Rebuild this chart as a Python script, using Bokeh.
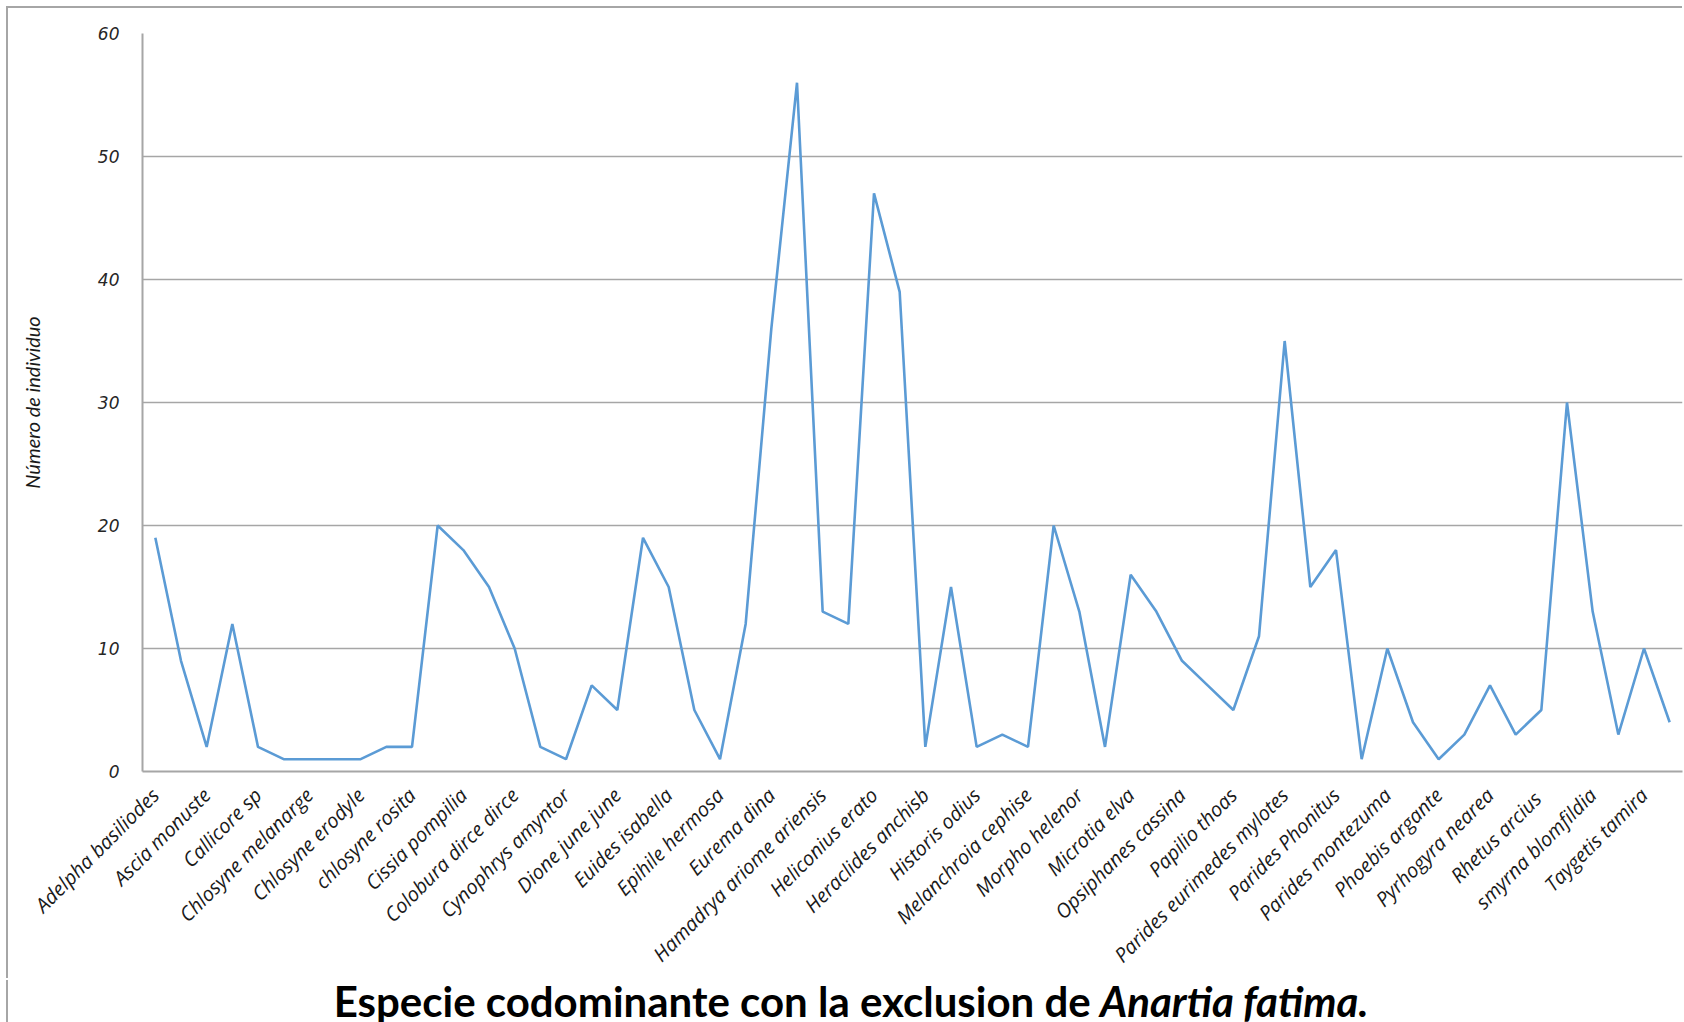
from bokeh.plotting import figure
from bokeh.layouts import column
from bokeh.models import Range1d, FixedTicker, Label
from bokeh.embed import file_html
from bokeh.resources import INLINE

# ---- data ----
shown_labels = [
    "Adelpha basiliodes", "Ascia monuste", "Callicore sp", "Chlosyne melanarge",
    "Chlosyne erodyle", "chlosyne rosita", "Cissia pompilia", "Colobura dirce dirce",
    "Cynophrys amyntor", "Dione june june", "Euides isabella", "Epihile hermosa",
    "Eurema dina", "Hamadrya ariome ariensis", "Heliconius erato", "Heraclides anchisb",
    "Historis odius", "Melanchroia cephise", "Morpho helenor", "Microtia elva",
    "Opsiphanes cassina", "Papilio thoas", "Parides eurimedes mylotes", "Parides Phonitus",
    "Parides montezuma", "Phoebis argante", "Pyrhogyra nearea", "Rhetus  arcius",
    "smyrna blomfildia", "Taygetis tamira",
]
counts = [19, 9, 2, 12, 2, 1, 1, 1, 1, 2,
          2, 20, 18, 15, 10, 2, 1, 7, 5, 19,
          15, 5, 1, 12, 36, 56, 13, 12, 47, 39,
          2, 15, 2, 3, 2, 20, 13, 2, 16, 13,
          9, 7, 5, 11, 35, 15, 18, 1, 10, 4,
          1, 3, 7, 3, 5, 30, 13, 3, 10, 4]
y_ticks = [0, 10, 20, 30, 40, 50, 60]
title_main = "Especie codominante con la exclusion de"
title_italic = "Anartia fatima."
y_label = "Número de individuo"

xs = list(range(len(counts)))
label_pos = xs[::2]

GRID = "#a6a6a6"
W = 1676
H1 = 972
H2 = 42

p = figure(width=W, height=H1, output_backend="svg", toolbar_location=None,
           x_range=Range1d(-0.5, len(counts) - 0.5), y_range=Range1d(0, 60),
           min_border_left=134, min_border_top=25, min_border_right=2, min_border_bottom=209)
p.styles = {"box-shadow": "-2px -2px 0px 0px #a6a6a6"}
p.outline_line_color = None
p.background_fill_color = "white"
p.border_fill_color = "white"

p.line(xs, counts, line_color="#5B9BD5", line_width=2.6)

# x axis
xa = p.xaxis[0]
xa.ticker = FixedTicker(ticks=label_pos)
xa.major_label_overrides = {i: lab for i, lab in zip(label_pos, shown_labels)}
xa.major_label_orientation = 0.785398
xa.major_label_text_font = "Open Sans"
xa.major_label_text_font_style = "italic"
xa.major_label_text_font_size = "20px"
xa.major_label_text_color = "#1a1a1a"
xa.major_label_standoff = 14
xa.major_tick_line_color = None
xa.minor_tick_line_color = None
xa.axis_line_color = GRID
xa.axis_line_width = 2

# y axis
ya = p.yaxis[0]
ya.ticker = FixedTicker(ticks=y_ticks)
ya.major_label_text_font = "DejaVu Sans"
ya.major_label_text_font_style = "italic"
ya.major_label_text_font_size = "17px"
ya.major_label_text_color = "#262626"
ya.major_label_standoff = 17
ya.major_tick_line_color = None
ya.minor_tick_line_color = None
ya.axis_line_color = GRID
ya.axis_line_width = 2
ya.axis_label = y_label
ya.axis_label_text_font = "Lato"
ya.axis_label_text_font_style = "italic"
ya.axis_label_text_font_size = "20px"
ya.axis_label_text_color = "#1a1a1a"
ya.axis_label_standoff = 51

p.xgrid.grid_line_color = None
p.ygrid.ticker = FixedTicker(ticks=y_ticks)
p.ygrid.grid_line_color = GRID
p.ygrid.grid_line_width = 1.5

# title strip (bold + bold italic parts)
pt = figure(width=W, height=H2, output_backend="svg", toolbar_location=None,
            x_range=Range1d(0, W), y_range=Range1d(0, H2),
            x_axis_type=None, y_axis_type=None, min_border=0)
pt.styles = {"box-shadow": "-2px 0px 0px 0px #a6a6a6"}
pt.outline_line_color = None
pt.border_fill_color = "white"
pt.background_fill_color = "white"

t1 = Label(x=1032, y=22, text=title_main,
           text_font="Lato", text_font_style="bold", text_font_size="42px",
           text_align="right", text_baseline="alphabetic", text_color="black")
t2 = Label(x=1042, y=22, text=title_italic,
           text_font="Lato", text_font_style="bold italic", text_font_size="42px",
           text_align="left", text_baseline="alphabetic", text_color="black")
pt.add_layout(t1)
pt.add_layout(t2)

layout = column(p, pt, spacing=0, styles={"margin-left": "8px", "margin-top": "8px"})
open("out.html", "w").write(file_html(layout, INLINE))
